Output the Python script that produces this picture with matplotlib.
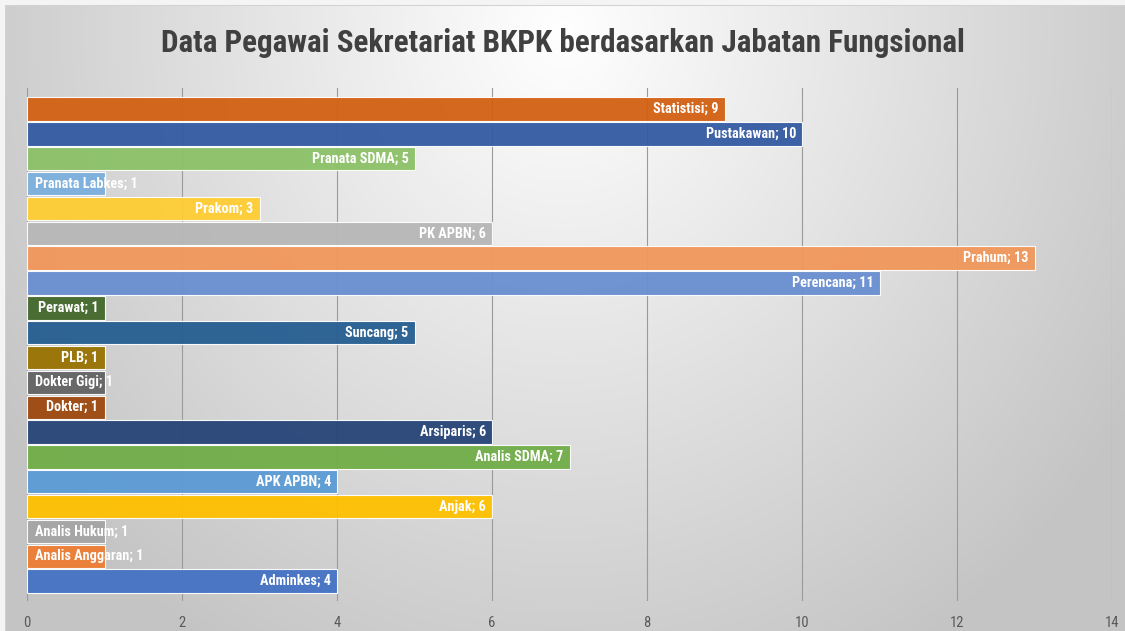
import numpy as np
import matplotlib
matplotlib.use("Agg")
import matplotlib.pyplot as plt
from matplotlib import font_manager
from matplotlib.transforms import offset_copy

# Data (bottom to top)
categories = ["Adminkes", "Analis Anggaran", "Analis Hukum", "Anjak", "APK APBN",
              "Analis SDMA", "Arsiparis", "Dokter", "Dokter Gigi", "PLB", "Suncang",
              "Perawat", "Perencana", "Prahum", "PK APBN", "Prakom", "Pranata Labkes",
              "Pranata SDMA", "Pustakawan", "Statistisi"]
values = [4, 1, 1, 6, 4, 7, 6, 1, 1, 1, 5, 1, 11, 13, 6, 3, 1, 5, 10, 9]
colors = ["#4472C4", "#ED7D31", "#A5A5A5", "#FFC000", "#5B9BD5", "#70AD47",
          "#264478", "#9E480E", "#636363", "#997300", "#255E91", "#43682B",
          "#698ED0", "#F1975A", "#B7B7B7", "#FFCD33", "#7CAFDD", "#8CC168",
          "#335AA1", "#D26012"]
title = "Data Pegawai Sekretariat BKPK berdasarkan Jabatan Fungsional"
xticks = [0, 2, 4, 6, 8, 10, 12, 14]

names = {f.name for f in font_manager.fontManager.ttflist}
FONT = "DejaVu Sans"
for cand in ["Liberation Sans Narrow", "Roboto Condensed", "Open Sans Condensed",
             "DejaVu Sans Condensed"]:
    if cand in names:
        FONT = cand
        break
plt.rcParams["font.family"] = [FONT, "DejaVu Sans"]

W, H, DPI = 1125, 631, 100
fig = plt.figure(figsize=(W / DPI, H / DPI), dpi=DPI)

# background radial gradient
bg = fig.add_axes([0, 0, 1, 1], zorder=-10)
yy, xx = np.mgrid[0:H, 0:W]
cx, cy = W * 0.5, H * 0.05
r = np.sqrt(((xx - cx) / (W * 0.62)) ** 2 + ((yy - cy) / (H * 1.2)) ** 2)
v = np.clip(1.0 - 0.24 * r, 0.77, 1.0)
img = np.dstack([v, v, v])
img[:5, :, :] = 0.96
img[:, :5, :] = 0.96
img[5, 5:, :] = 0.82
img[5:, 5, :] = 0.82
bg.imshow(img, aspect="auto", extent=[0, 1, 0, 1], origin="upper")
bg.axis("off")

x0, x1 = 27 / W, 1112 / W
y_top, y_bot = 88 / H, 601 / H
ax = fig.add_axes([x0, 1 - y_bot, x1 - x0, y_bot - y_top])
ax.patch.set_alpha(0)
y = np.arange(len(categories))
ax.barh(y, values, height=0.94, color=colors, edgecolor="white",
        linewidth=0.8, zorder=3, alpha=0.95)
ax.set_xlim(0, 14)
ax.set_ylim(-0.80, 19.85)
ax.set_xticks(xticks)
ax.set_yticks([])
for s in ax.spines.values():
    s.set_visible(False)
ax.grid(axis="x", color="#9a9a9a", linewidth=0.8, zorder=1)
ax.tick_params(axis="x", length=0, colors="#595959", labelsize=10.5, pad=11)

fig.canvas.draw()
renderer = fig.canvas.get_renderer()
for yi, (cat, val) in enumerate(zip(categories, values)):
    label = f"{cat}; {val}"
    t = ax.text(val, yi, label, ha="right", va="center", color="white",
                fontsize=10.3, fontweight="bold", zorder=5)
    bb = t.get_window_extent(renderer)
    p0 = ax.transData.transform((0, yi))[0]
    p1 = ax.transData.transform((val, yi))[0]
    if bb.width + 14 > (p1 - p0):
        t.set_ha("left")
        t.set_position((0, yi))
        t.set_transform(offset_copy(ax.transData, fig=fig, x=8, y=0, units="dots"))
    else:
        t.set_transform(offset_copy(ax.transData, fig=fig, x=-6, y=0, units="dots"))

fig.text(0.5, 1 - 43 / H, title, ha="center", va="center", fontsize=22.4,
         fontweight="bold", color="#404040")

fig.savefig("out.png", dpi=DPI)
